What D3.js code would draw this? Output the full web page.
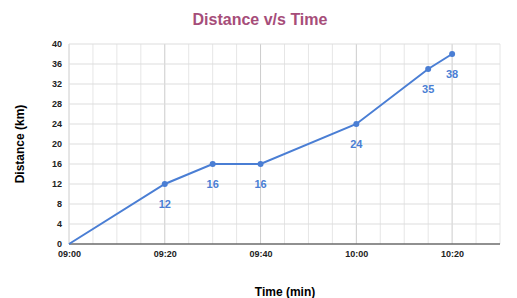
<!DOCTYPE html>
<html>
<head>
<meta charset="utf-8">
<script src="https://cdnjs.cloudflare.com/ajax/libs/d3/7.8.5/d3.min.js"></script>
<style>
  body { margin: 0; background: #fff; }
  text { font-family: Arial, "Liberation Sans", sans-serif; }
</style>
</head>
<body>
<div id="chart"></div>
<script>
// chart data
var times = ["09:00", "09:20", "09:30", "09:40", "10:00", "10:15", "10:20"];
var distances = [0, 12, 16, 16, 24, 35, 38];
var yTicks = [0, 4, 8, 12, 16, 20, 24, 28, 32, 36, 40];
var xTickLabels = ["09:00", "09:20", "09:40", "10:00", "10:20"];

var parse = d3.timeParse("%H:%M");
var data = [];
for (var i = 0; i < times.length; i++) {
  data.push({t: parse(times[i]), d: distances[i]});
}

var width = 517, height = 298;
var svg = d3.select("#chart").append("svg")
  .attr("width", width)
  .attr("height", height);

var x = d3.scaleTime()
  .domain([parse("09:00"), parse("10:30")])
  .range([69, 500]);
var y = d3.scaleLinear()
  .domain([0, 40])
  .range([244, 44]);

// vertical grid every 5 min, darker on labelled ticks
var minor = d3.timeMinute.every(5).range(parse("09:00"), d3.timeMinute.offset(parse("10:30"), 1));
svg.append("g").selectAll("line")
  .data(minor)
  .enter().append("line")
  .attr("x1", function(d) { return x(d); })
  .attr("x2", function(d) { return x(d); })
  .attr("y1", 44).attr("y2", 244)
  .attr("stroke", function(d) { return d.getMinutes() % 20 == 0 ? "#cccccc" : "#e6e6e6"; })
  .attr("stroke-width", 1);

// horizontal grid
svg.append("g").selectAll("line")
  .data(yTicks)
  .enter().append("line")
  .attr("x1", 69).attr("x2", 500)
  .attr("y1", function(d) { return y(d); })
  .attr("y2", function(d) { return y(d); })
  .attr("stroke", "#dddddd");

// axes
var yAxis = d3.axisLeft(y).tickValues(yTicks).tickSize(0).tickPadding(7);
svg.append("g")
  .attr("transform", "translate(69,0)")
  .call(yAxis)
  .call(function(g) { g.select(".domain").remove(); })
  .selectAll("text")
  .attr("font-size", 9).attr("font-weight", "bold").attr("fill", "#222");

var xAxis = d3.axisBottom(x)
  .tickValues(xTickLabels.map(parse))
  .tickFormat(d3.timeFormat("%H:%M"))
  .tickSize(0).tickPadding(7);
svg.append("g")
  .attr("transform", "translate(0,244)")
  .call(xAxis)
  .call(function(g) { g.select(".domain").attr("stroke", "#333").attr("d", "M69,0H500"); })
  .selectAll("text")
  .attr("font-size", 9).attr("font-weight", "bold").attr("fill", "#222");

// line
var line = d3.line()
  .x(function(d) { return x(d.t); })
  .y(function(d) { return y(d.d); });
svg.append("path")
  .datum(data)
  .attr("fill", "none")
  .attr("stroke", "#4a7ed4")
  .attr("stroke-width", 2)
  .attr("d", line);

svg.append("g").selectAll("circle")
  .data(data.slice(1))
  .enter().append("circle")
  .attr("cx", function(d) { return x(d.t); })
  .attr("cy", function(d) { return y(d.d); })
  .attr("r", 3)
  .attr("fill", "#4a7ed4");

svg.append("g").selectAll("text")
  .data(data.slice(1))
  .enter().append("text")
  .attr("x", function(d) { return x(d.t); })
  .attr("y", function(d) { return y(d.d) + 24; })
  .attr("text-anchor", "middle")
  .attr("font-size", 11)
  .attr("font-weight", "bold")
  .attr("fill", "#4a7ed4")
  .text(function(d) { return d.d; });

// titles
svg.append("text")
  .attr("x", 260).attr("y", 25)
  .attr("text-anchor", "middle")
  .attr("font-size", 16).attr("font-weight", "bold")
  .attr("fill", "#a64d79")
  .text("Distance v/s Time");

svg.append("text")
  .attr("transform", "translate(24,144) rotate(-90)")
  .attr("text-anchor", "middle")
  .attr("font-size", 12).attr("font-weight", "bold")
  .attr("fill", "#000")
  .text("Distance (km)");

svg.append("text")
  .attr("x", 285).attr("y", 296)
  .attr("text-anchor", "middle")
  .attr("font-size", 12).attr("font-weight", "bold")
  .attr("fill", "#000")
  .text("Time (min)");
</script>
</body>
</html>
